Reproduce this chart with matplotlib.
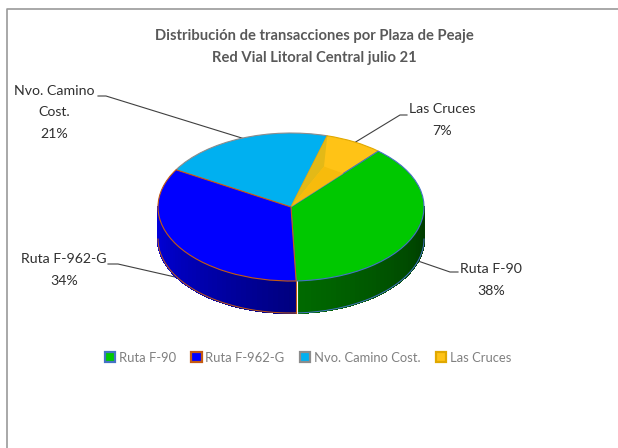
import numpy as np
import matplotlib
matplotlib.use("Agg")
import matplotlib.pyplot as plt
from matplotlib.patches import Wedge, Patch, Polygon
from matplotlib.collections import PolyCollection
from matplotlib.transforms import Affine2D

plt.rcParams['font.family'] = ['Lato', 'DejaVu Sans']

categories = ["Ruta F-90", "Ruta F-962-G", "Nvo. Camino Cost.", "Las Cruces"]
values = [38, 34, 21, 7]
face_colors = ["#00c800", "#0000ff", "#00b0f0", "#ffc316"]
edge_colors = ["#4472c4", "#c55a11", "#8c8c8c", "#e0a800"]
side_from = ["#006a00", "#0000e0", "#0090c8", "#d09c00"]
side_to = ["#003c00", "#000080", "#0090c8", "#d09c00"]

W, H = 618, 448
cx, cy, rx, ry, depth = 291, 448 - 207, 133, 74, 32
start_angle = 49

fig = plt.figure(figsize=(6.18, 4.48), dpi=100)
ax = fig.add_axes([0, 0, 1, 1])
ax.set_xlim(0, W)
ax.set_ylim(0, H)
ax.axis("off")

# frame of the chart area, only top and left are visible
ax.plot([7, 7, W], [0, H - 9, H - 9], color="#9a9a9a", lw=1.2)

# angles of the slices, clockwise from the start angle
ends = start_angle - np.cumsum(values) * 3.6
starts = np.r_[start_angle, ends[:-1]]


def rim(theta, r=1.0):
    t = np.radians(theta)
    return cx + rx * r * np.cos(t), cy + ry * r * np.sin(t)


# side wall, only the front half of the ellipse can be seen
for i in range(len(values)):
    a0, a1 = ends[i] % 360, starts[i] % 360
    if a1 < a0:
        a1 += 360
    a0, a1 = max(a0, 180), min(a1, 360)
    if a1 <= a0:
        continue
    steps = np.linspace(a0, a1, 40)
    quads = []
    for s0, s1 in zip(steps[:-1], steps[1:]):
        x0, y0 = rim(s0)
        x1, y1 = rim(s1)
        quads.append([(x0, y0), (x1, y1), (x1, y1 - depth), (x0, y0 - depth)])
    c0 = np.array(matplotlib.colors.to_rgb(side_from[i]))
    c1 = np.array(matplotlib.colors.to_rgb(side_to[i]))
    frac = np.linspace(0, 1, len(quads))
    cols = [c0 + (c1 - c0) * f for f in frac]
    ax.add_collection(PolyCollection(quads, facecolors=cols, edgecolors=cols, linewidths=1.0,
                                     antialiaseds=False, zorder=2))
    xb, yb = rim(steps)
    ax.plot(xb, yb - depth, color=edge_colors[i], lw=0.7, zorder=3)
    if i == 1:
        xr, yr = rim(steps[-1])
        ax.plot([xr, xr], [yr, yr - depth], color=edge_colors[i], lw=0.8, zorder=3)
    if i == 0:
        xr, yr = rim(steps[0])
        ax.plot([xr + 1, xr + 1], [yr, yr - depth], color="white", lw=0.8, zorder=3)

# top of the pie
ellipse = Affine2D().scale(rx, ry).translate(cx, cy) + ax.transData
for i in [2, 3, 0, 1]:
    ax.add_patch(Wedge((0, 0), 1, ends[i], starts[i], facecolor=face_colors[i],
                       edgecolor=edge_colors[i], lw=0.8, transform=ellipse, zorder=4))

# the shaded inner faces inside the small slice
mid = (starts[3] + ends[3]) / 2
ax.add_patch(Polygon([(cx, cy), rim(starts[3]), rim(mid + 4, 0.6)], closed=True,
                     facecolor="#e3b917", edgecolor="none", zorder=5))
ax.add_patch(Polygon([(cx, cy), rim(mid + 4, 0.6), rim(ends[3], 0.6)], closed=True,
                     facecolor="#f7bb0c", edgecolor="none", zorder=5))

# title
title_color = "#595959"
ax.text(314, H - 36, "Distribución de transacciones por Plaza de Peaje", ha="center", va="center",
        fontsize=10.6, fontweight="bold", color=title_color)
ax.text(314, H - 58, "Red Vial Litoral Central julio 21", ha="center", va="center",
        fontsize=10.6, fontweight="bold", color=title_color)

# data labels with their leader lines
pct = ["%d%%" % v for v in values]
label_color = "#303030"
leader = "#404040"
ax.text(491, H - 280, categories[0] + "\n" + pct[0], ha="center", va="center", fontsize=10.2,
        color=label_color, linespacing=1.95)
ax.text(64, H - 270, categories[1] + "\n" + pct[1], ha="center", va="center", fontsize=10.2,
        color=label_color, linespacing=1.95)
ax.text(54, H - 112, "Nvo. Camino\nCost.\n" + pct[2], ha="center", va="center", fontsize=10.2,
        color=label_color, linespacing=1.95)
ax.text(442, H - 120, categories[3] + "\n" + pct[3], ha="center", va="center", fontsize=10.2,
        color=label_color, linespacing=1.95)

ax.plot([458, 450, 418], [H - 272, H - 272, H - 261], color=leader, lw=0.8, zorder=1)
ax.plot([108, 118, 175], [H - 264, H - 264, H - 277], color=leader, lw=0.8, zorder=1)
ax.plot([98, 106, 245], [H - 96, H - 96, H - 139], color=leader, lw=0.8, zorder=1)
ax.plot([407, 400, 354], [H - 115, H - 115, H - 143], color=leader, lw=0.8, zorder=1)

# legend
handles = [Patch(facecolor=f, edgecolor=e, lw=1.6, label=c)
           for f, e, c in zip(face_colors, edge_colors, categories)]
ax.legend(handles=handles, loc="center", bbox_to_anchor=(308 / W, 1 - 358 / H), ncol=4, frameon=False,
          fontsize=9.4, labelcolor="#808080", handlelength=0.8, handleheight=0.8,
          handletextpad=0.25, columnspacing=1.2, borderaxespad=0)

fig.savefig("out.png", dpi=100, facecolor="white")
